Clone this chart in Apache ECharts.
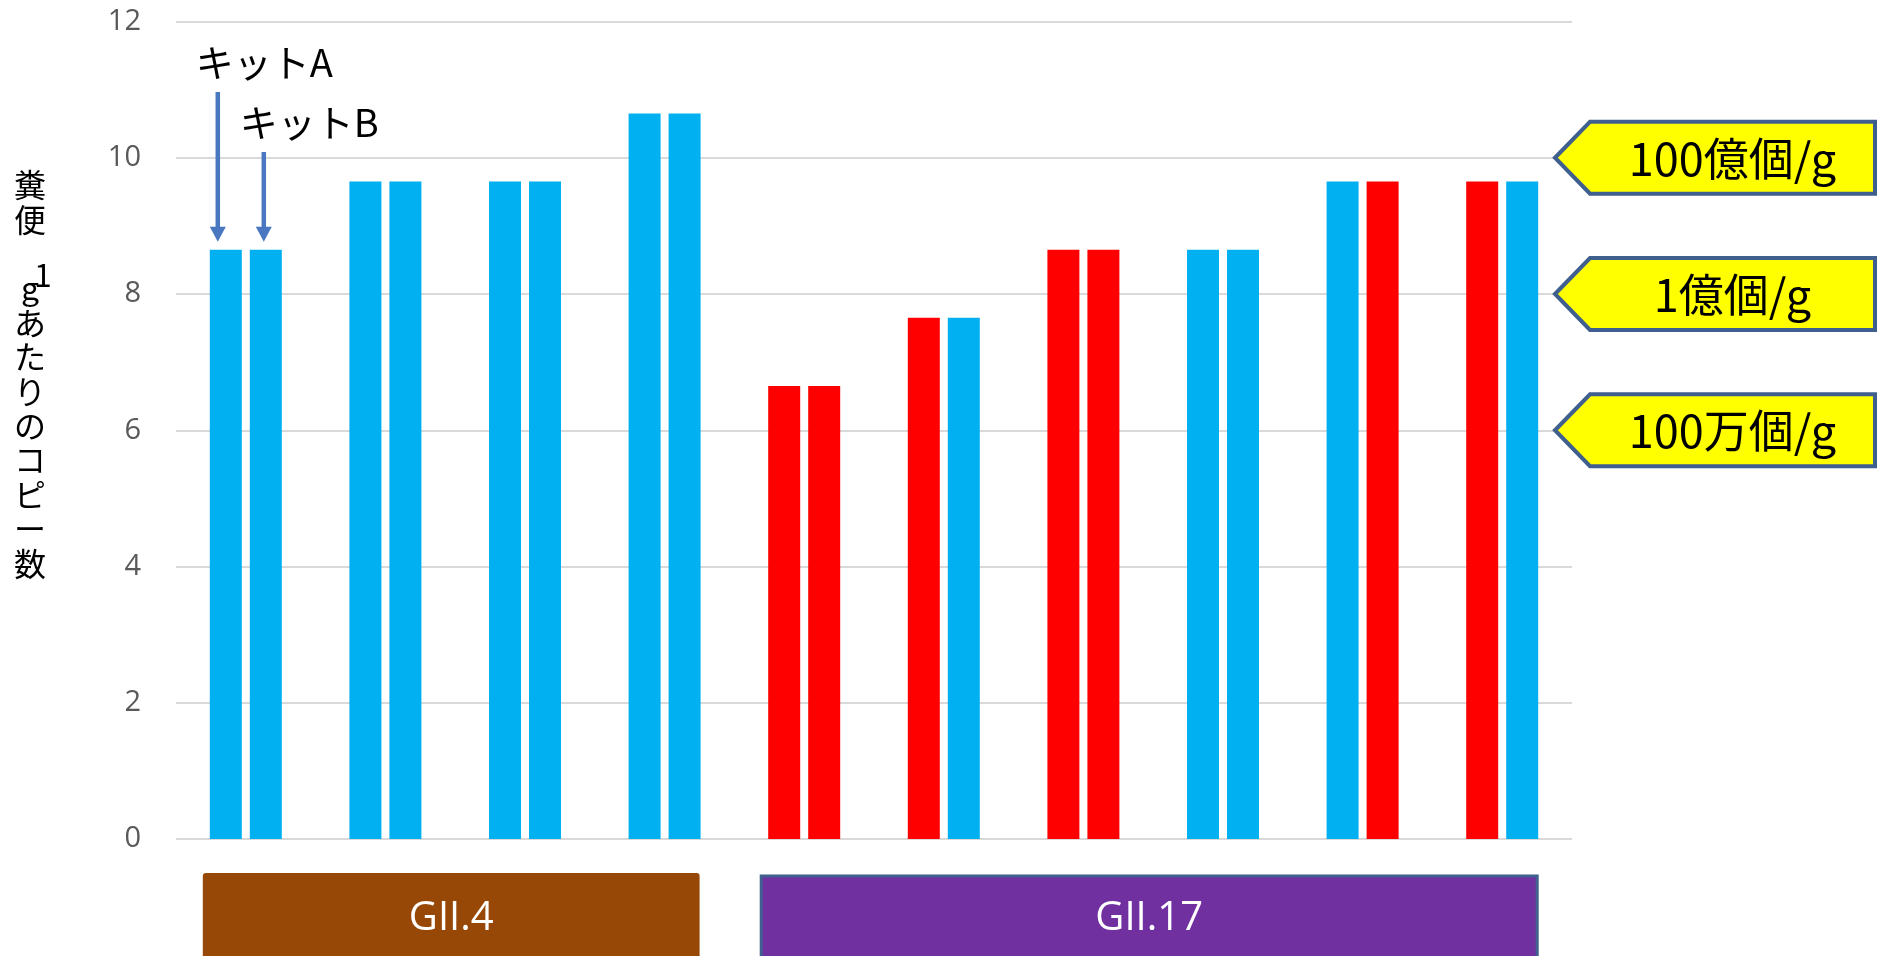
<!DOCTYPE html>
<html>
<head>
<meta charset="utf-8">
<title>糞便1gあたりのコピー数</title>
<script src="https://cdn.jsdelivr.net/npm/echarts@6/dist/echarts.min.js"></script>
<style>
  html, body { margin: 0; padding: 0; background: #ffffff; }
  #chart { width: 1878px; height: 956px; }
</style>
</head>
<body>
<div id="chart"></div>
<script>
// Samples (one pair of bars per sample: kit A, kit B)
const samples = ['1', '2', '3', '4', '5', '6', '7', '8', '9', '10'];

// log10 copies per gram of stool
const kitA = [8.65, 9.65, 9.65, 10.65, 6.65, 7.65, 8.65, 8.65, 9.65, 9.65];
const kitB = [8.65, 9.65, 9.65, 10.65, 6.65, 7.65, 8.65, 8.65, 9.65, 9.65];

// 1 = result shown in red, 0 = shown in blue
const kitAFlag = [0, 0, 0, 0, 1, 1, 1, 0, 0, 1];
const kitBFlag = [0, 0, 0, 0, 1, 0, 1, 0, 1, 0];

// Y-axis scale
const yMin = 0;
const yMax = 12;
const yStep = 2;

// Reference levels on the right
const calloutLevels = [10, 8, 6];
const calloutLabels = ['100億個/g', '1億個/g', '100万個/g'];

// Genotype groups under the bars
const groupNames = ['GII.4', 'GII.17'];
const groupFirst = [0, 4];
const groupLast = [3, 9];

// Kit annotations
const kitLabels = ['キットA', 'キットB'];

// Y-axis title characters (stacked vertically)
const titleChars = ['糞', '便', '', 'g', 'あ', 'た', 'り', 'の', 'コ', 'ピ', 'ー', '数'];

const BLUE = '#00B0F0';
const RED = '#FF0000';
const CJK = '"Noto Sans CJK JP", "Noto Sans", sans-serif';
const LATIN = '"Open Sans", "Noto Sans", sans-serif';

const chart = echarts.init(document.getElementById('chart'), null, { renderer: 'canvas' });

function barData(values, flags) {
  return values.map((v, i) => ({
    value: v,
    itemStyle: { color: flags[i] ? RED : BLUE }
  }));
}

chart.setOption({
  animation: false,
  backgroundColor: '#ffffff',
  grid: {
    left: 176, right: 306, top: 21.5, bottom: 117,
    containLabel: false,
    outerBoundsMode: 'none'
  },
  xAxis: {
    type: 'category',
    data: samples,
    axisLine: { show: false },
    axisTick: { show: false },
    axisLabel: { show: false },
    splitLine: { show: false }
  },
  yAxis: {
    type: 'value',
    min: yMin, max: yMax, interval: yStep,
    axisLine: { show: false },
    axisTick: { show: false },
    axisLabel: {
      color: '#595959',
      fontFamily: LATIN,
      fontSize: 29,
      margin: 35
    },
    splitLine: { lineStyle: { color: '#D9D9D9', width: 2 } }
  },
  series: [
    {
      name: kitLabels[0],
      type: 'bar',
      barWidth: 32,
      barGap: '25%',
      data: barData(kitA, kitAFlag)
    },
    {
      name: kitLabels[1],
      type: 'bar',
      barWidth: 32,
      barGap: '25%',
      data: barData(kitB, kitBFlag)
    }
  ]
});

// Annotation layer, placed from the axis scales
const px = (cat) => chart.convertToPixel({ xAxisIndex: 0 }, cat);
const py = (val) => chart.convertToPixel({ yAxisIndex: 0 }, val);
const graphics = [];

// Vertical y-axis title
const titleX = 30;
const titleTop = 185;
const titlePitch = 34.4;
titleChars.forEach((ch, i) => {
  if (!ch) return;
  graphics.push({
    type: 'text',
    style: {
      text: ch, x: titleX, y: titleTop + i * titlePitch,
      align: 'center', verticalAlign: 'middle',
      font: '32px ' + CJK, fill: '#000000'
    }
  });
});
// the "1" of "1g" sits above and right of the g
graphics.push({
  type: 'text',
  style: {
    text: '1', x: 43, y: titleTop + 3 * titlePitch - 13,
    align: 'center', verticalAlign: 'middle',
    font: '32px ' + CJK, fill: '#000000'
  }
});

// Kit arrows on the first sample
const c0 = px(samples[0]);
const topA = py(kitA[0]);
const topB = py(kitB[0]);
const ARROW = '#4A78C0';
const arrowXs = [c0 - 28, c0 + 18];
const arrowStarts = [92, 152];
const arrowTips = [topA - 8, topB - 8];
const labelOffsets = [-22, -24];
const labelYs = [63, 123];
for (let k = 0; k < 2; k++) {
  const ax = arrowXs[k];
  graphics.push({
    type: 'line',
    shape: { x1: ax, y1: arrowStarts[k], x2: ax, y2: arrowTips[k] - 12 },
    style: { stroke: ARROW, lineWidth: 4.5 }
  });
  graphics.push({
    type: 'polygon',
    shape: { points: [[ax - 8, arrowTips[k] - 15], [ax + 8, arrowTips[k] - 15], [ax, arrowTips[k]]] },
    style: { fill: ARROW }
  });
  graphics.push({
    type: 'text',
    style: {
      text: kitLabels[k], x: ax + labelOffsets[k], y: labelYs[k],
      align: 'left', verticalAlign: 'middle',
      font: '38px ' + CJK, fill: '#000000'
    }
  });
}

// Pentagon callouts pointing at reference levels
const tipX = 1555;
const bodyX = 1590;
const rightX = 1875;
const half = 36;
calloutLevels.forEach((lv, i) => {
  const cy = py(lv);
  graphics.push({
    type: 'polygon',
    shape: {
      points: [[tipX, cy], [bodyX, cy - half], [rightX, cy - half], [rightX, cy + half], [bodyX, cy + half]]
    },
    style: { fill: '#FFFF00', stroke: '#3F5F8F', lineWidth: 4, lineJoin: 'miter' }
  });
  graphics.push({
    type: 'text',
    style: {
      text: calloutLabels[i], x: (bodyX + rightX) / 2, y: cy + 1,
      align: 'center', verticalAlign: 'middle',
      font: '45px ' + CJK, fill: '#000000'
    }
  });
});

// Genotype boxes
const groupFill = ['#974706', '#7030A0'];
const groupStroke = [null, '#3F5F8F'];
const groupTop = [873, 876];
groupNames.forEach((name, g) => {
  const x0 = px(samples[groupFirst[g]]) - 43;
  const x1 = px(samples[groupLast[g]]) + 35;
  const y0 = groupTop[g];
  graphics.push({
    type: 'rect',
    shape: { x: x0, y: y0, width: x1 - x0, height: 100, r: groupStroke[g] ? 0 : 3 },
    style: groupStroke[g]
      ? { fill: groupFill[g], stroke: groupStroke[g], lineWidth: 3 }
      : { fill: groupFill[g] }
  });
  graphics.push({
    type: 'text',
    style: {
      text: name, x: (x0 + x1) / 2, y: 919,
      align: 'center', verticalAlign: 'middle',
      font: '40px ' + LATIN, fill: '#ffffff'
    }
  });
});

chart.setOption({ graphic: { elements: graphics } });
</script>
</body>
</html>
